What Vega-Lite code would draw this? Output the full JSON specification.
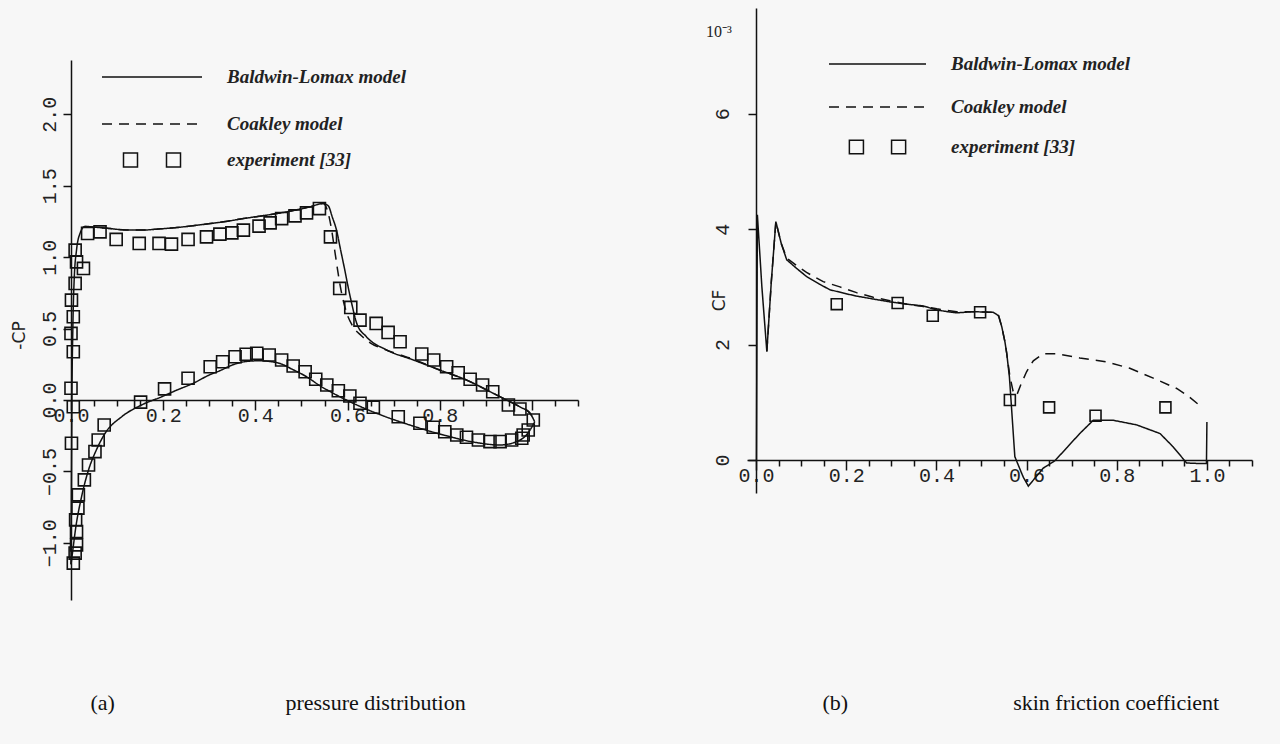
{
  "$schema": "https://vega.github.io/schema/vega-lite/v6.json",
  "width": 1181,
  "height": 592,
  "padding": {"left": 71, "top": 8, "right": 28, "bottom": 144},
  "autosize": {"type": "none"},
  "background": "#f7f7f7",
  "title": {"text": "10\u207b\u00b3", "anchor": "start", "frame": "group", "orient": "top", "dx": 635, "dy": 36, "font": "Liberation Serif", "fontSize": 16, "fontWeight": "normal", "color": "#222"},
  "config": {
    "view": {"stroke": null},
    "axis": {"domainColor": "#111", "domainWidth": 1.5, "tickColor": "#111", "tickWidth": 1.5, "labelFont": "Liberation Mono", "labelFontSize": 20, "labelColor": "#222", "grid": false, "titleFont": "DejaVu Sans", "titleFontWeight": "normal", "titleFontSize": 17, "titleColor": "#222"},
    "legend": {"padding": 0, "title": null, "labelFont": "Liberation Serif", "labelFontStyle": "italic", "labelFontWeight": "bold", "labelFontSize": 19, "labelColor": "#222", "labelOffset": 24, "clipHeight": 20, "labelLimit": 600}
  },
  "datasets": {
    "aLines": [
      {"model":"Baldwin-Lomax model","surf":"upper","i":0,"x":0,"cp":-1.15},
      {"model":"Baldwin-Lomax model","surf":"upper","i":1,"x":0.001,"cp":-0.6},
      {"model":"Baldwin-Lomax model","surf":"upper","i":2,"x":0.002,"cp":0.0},
      {"model":"Baldwin-Lomax model","surf":"upper","i":3,"x":0.004,"cp":0.5},
      {"model":"Baldwin-Lomax model","surf":"upper","i":4,"x":0.007,"cp":0.85},
      {"model":"Baldwin-Lomax model","surf":"upper","i":5,"x":0.012,"cp":1.05},
      {"model":"Baldwin-Lomax model","surf":"upper","i":6,"x":0.02,"cp":1.17},
      {"model":"Baldwin-Lomax model","surf":"upper","i":7,"x":0.03,"cp":1.215},
      {"model":"Baldwin-Lomax model","surf":"upper","i":8,"x":0.05,"cp":1.21},
      {"model":"Baldwin-Lomax model","surf":"upper","i":9,"x":0.085,"cp":1.2},
      {"model":"Baldwin-Lomax model","surf":"upper","i":10,"x":0.12,"cp":1.19},
      {"model":"Baldwin-Lomax model","surf":"upper","i":11,"x":0.157,"cp":1.19},
      {"model":"Baldwin-Lomax model","surf":"upper","i":12,"x":0.19,"cp":1.197},
      {"model":"Baldwin-Lomax model","surf":"upper","i":13,"x":0.229,"cp":1.207},
      {"model":"Baldwin-Lomax model","surf":"upper","i":14,"x":0.265,"cp":1.22},
      {"model":"Baldwin-Lomax model","surf":"upper","i":15,"x":0.302,"cp":1.235},
      {"model":"Baldwin-Lomax model","surf":"upper","i":16,"x":0.34,"cp":1.252},
      {"model":"Baldwin-Lomax model","surf":"upper","i":17,"x":0.374,"cp":1.27},
      {"model":"Baldwin-Lomax model","surf":"upper","i":18,"x":0.41,"cp":1.287},
      {"model":"Baldwin-Lomax model","surf":"upper","i":19,"x":0.446,"cp":1.305},
      {"model":"Baldwin-Lomax model","surf":"upper","i":20,"x":0.48,"cp":1.325},
      {"model":"Baldwin-Lomax model","surf":"upper","i":21,"x":0.518,"cp":1.352},
      {"model":"Baldwin-Lomax model","surf":"upper","i":22,"x":0.547,"cp":1.375},
      {"model":"Baldwin-Lomax model","surf":"upper","i":23,"x":0.558,"cp":1.36},
      {"model":"Baldwin-Lomax model","surf":"upper","i":24,"x":0.567,"cp":1.28},
      {"model":"Baldwin-Lomax model","surf":"upper","i":25,"x":0.576,"cp":1.19},
      {"model":"Baldwin-Lomax model","surf":"upper","i":26,"x":0.585,"cp":1.05},
      {"model":"Baldwin-Lomax model","surf":"upper","i":27,"x":0.594,"cp":0.91},
      {"model":"Baldwin-Lomax model","surf":"upper","i":28,"x":0.602,"cp":0.78},
      {"model":"Baldwin-Lomax model","surf":"upper","i":29,"x":0.609,"cp":0.676},
      {"model":"Baldwin-Lomax model","surf":"upper","i":30,"x":0.62,"cp":0.536},
      {"model":"Baldwin-Lomax model","surf":"upper","i":31,"x":0.641,"cp":0.443},
      {"model":"Baldwin-Lomax model","surf":"upper","i":32,"x":0.685,"cp":0.35},
      {"model":"Baldwin-Lomax model","surf":"upper","i":33,"x":0.743,"cp":0.28},
      {"model":"Baldwin-Lomax model","surf":"upper","i":34,"x":0.8,"cp":0.21},
      {"model":"Baldwin-Lomax model","surf":"upper","i":35,"x":0.858,"cp":0.14},
      {"model":"Baldwin-Lomax model","surf":"upper","i":36,"x":0.916,"cp":0.047},
      {"model":"Baldwin-Lomax model","surf":"upper","i":37,"x":0.945,"cp":0.0},
      {"model":"Baldwin-Lomax model","surf":"upper","i":38,"x":0.975,"cp":-0.05},
      {"model":"Baldwin-Lomax model","surf":"upper","i":39,"x":0.996,"cp":-0.093},
      {"model":"Baldwin-Lomax model","surf":"upper","i":40,"x":1.006,"cp":-0.152},
      {"model":"Baldwin-Lomax model","surf":"lower","i":0,"x":0,"cp":-1.15},
      {"model":"Baldwin-Lomax model","surf":"lower","i":1,"x":0.004,"cp":-1.05},
      {"model":"Baldwin-Lomax model","surf":"lower","i":2,"x":0.01,"cp":-0.9},
      {"model":"Baldwin-Lomax model","surf":"lower","i":3,"x":0.023,"cp":-0.676},
      {"model":"Baldwin-Lomax model","surf":"lower","i":4,"x":0.038,"cp":-0.49},
      {"model":"Baldwin-Lomax model","surf":"lower","i":5,"x":0.055,"cp":-0.35},
      {"model":"Baldwin-Lomax model","surf":"lower","i":6,"x":0.074,"cp":-0.233},
      {"model":"Baldwin-Lomax model","surf":"lower","i":7,"x":0.11,"cp":-0.117},
      {"model":"Baldwin-Lomax model","surf":"lower","i":8,"x":0.153,"cp":-0.035},
      {"model":"Baldwin-Lomax model","surf":"lower","i":9,"x":0.197,"cp":0.023},
      {"model":"Baldwin-Lomax model","surf":"lower","i":10,"x":0.23,"cp":0.07},
      {"model":"Baldwin-Lomax model","surf":"lower","i":11,"x":0.265,"cp":0.117},
      {"model":"Baldwin-Lomax model","surf":"lower","i":12,"x":0.3,"cp":0.175},
      {"model":"Baldwin-Lomax model","surf":"lower","i":13,"x":0.323,"cp":0.205},
      {"model":"Baldwin-Lomax model","surf":"lower","i":14,"x":0.35,"cp":0.245},
      {"model":"Baldwin-Lomax model","surf":"lower","i":15,"x":0.381,"cp":0.27},
      {"model":"Baldwin-Lomax model","surf":"lower","i":16,"x":0.41,"cp":0.275},
      {"model":"Baldwin-Lomax model","surf":"lower","i":17,"x":0.435,"cp":0.268},
      {"model":"Baldwin-Lomax model","surf":"lower","i":18,"x":0.453,"cp":0.256},
      {"model":"Baldwin-Lomax model","surf":"lower","i":19,"x":0.48,"cp":0.215},
      {"model":"Baldwin-Lomax model","surf":"lower","i":20,"x":0.511,"cp":0.163},
      {"model":"Baldwin-Lomax model","surf":"lower","i":21,"x":0.54,"cp":0.1},
      {"model":"Baldwin-Lomax model","surf":"lower","i":22,"x":0.569,"cp":0.047},
      {"model":"Baldwin-Lomax model","surf":"lower","i":23,"x":0.605,"cp":-0.012},
      {"model":"Baldwin-Lomax model","surf":"lower","i":24,"x":0.663,"cp":-0.093},
      {"model":"Baldwin-Lomax model","surf":"lower","i":25,"x":0.735,"cp":-0.175},
      {"model":"Baldwin-Lomax model","surf":"lower","i":26,"x":0.808,"cp":-0.245},
      {"model":"Baldwin-Lomax model","surf":"lower","i":27,"x":0.88,"cp":-0.298},
      {"model":"Baldwin-Lomax model","surf":"lower","i":28,"x":0.931,"cp":-0.315},
      {"model":"Baldwin-Lomax model","surf":"lower","i":29,"x":0.967,"cp":-0.291},
      {"model":"Baldwin-Lomax model","surf":"lower","i":30,"x":0.985,"cp":-0.255},
      {"model":"Baldwin-Lomax model","surf":"lower","i":31,"x":0.996,"cp":-0.21},
      {"model":"Baldwin-Lomax model","surf":"lower","i":32,"x":1.006,"cp":-0.152},
      {"model":"Coakley model","surf":"upper","i":0,"x":0.03,"cp":1.215},
      {"model":"Coakley model","surf":"upper","i":1,"x":0.05,"cp":1.21},
      {"model":"Coakley model","surf":"upper","i":2,"x":0.085,"cp":1.2},
      {"model":"Coakley model","surf":"upper","i":3,"x":0.12,"cp":1.19},
      {"model":"Coakley model","surf":"upper","i":4,"x":0.157,"cp":1.19},
      {"model":"Coakley model","surf":"upper","i":5,"x":0.19,"cp":1.197},
      {"model":"Coakley model","surf":"upper","i":6,"x":0.229,"cp":1.207},
      {"model":"Coakley model","surf":"upper","i":7,"x":0.265,"cp":1.22},
      {"model":"Coakley model","surf":"upper","i":8,"x":0.302,"cp":1.235},
      {"model":"Coakley model","surf":"upper","i":9,"x":0.34,"cp":1.252},
      {"model":"Coakley model","surf":"upper","i":10,"x":0.374,"cp":1.27},
      {"model":"Coakley model","surf":"upper","i":11,"x":0.41,"cp":1.287},
      {"model":"Coakley model","surf":"upper","i":12,"x":0.446,"cp":1.305},
      {"model":"Coakley model","surf":"upper","i":13,"x":0.48,"cp":1.325},
      {"model":"Coakley model","surf":"upper","i":14,"x":0.518,"cp":1.352},
      {"model":"Coakley model","surf":"upper","i":15,"x":0.547,"cp":1.375},
      {"model":"Coakley model","surf":"upper","i":16,"x":0.556,"cp":1.33},
      {"model":"Coakley model","surf":"upper","i":17,"x":0.565,"cp":1.2},
      {"model":"Coakley model","surf":"upper","i":18,"x":0.572,"cp":1.05},
      {"model":"Coakley model","surf":"upper","i":19,"x":0.578,"cp":0.92},
      {"model":"Coakley model","surf":"upper","i":20,"x":0.584,"cp":0.8},
      {"model":"Coakley model","surf":"upper","i":21,"x":0.597,"cp":0.62},
      {"model":"Coakley model","surf":"upper","i":22,"x":0.612,"cp":0.513},
      {"model":"Coakley model","surf":"upper","i":23,"x":0.63,"cp":0.45},
      {"model":"Coakley model","surf":"upper","i":24,"x":0.649,"cp":0.4},
      {"model":"Coakley model","surf":"upper","i":25,"x":0.68,"cp":0.355},
      {"model":"Coakley model","surf":"upper","i":26,"x":0.72,"cp":0.31},
      {"model":"Coakley model","surf":"upper","i":27,"x":0.743,"cp":0.285},
      {"model":"Coakley model","surf":"upper","i":28,"x":0.8,"cp":0.21},
      {"model":"Coakley model","surf":"upper","i":29,"x":0.858,"cp":0.14},
      {"model":"Coakley model","surf":"upper","i":30,"x":0.916,"cp":0.047},
      {"model":"Coakley model","surf":"upper","i":31,"x":0.945,"cp":0.0},
      {"model":"Coakley model","surf":"upper","i":32,"x":0.975,"cp":-0.05},
      {"model":"Coakley model","surf":"upper","i":33,"x":0.996,"cp":-0.093},
      {"model":"Coakley model","surf":"upper","i":34,"x":1.006,"cp":-0.152}
    ],
    "aExp": [
      {"series":"experiment [33]","x":0.009,"cp":1.049},{"series":"experiment [33]","x":0.012,"cp":0.967},{"series":"experiment [33]","x":0.027,"cp":0.921},
      {"series":"experiment [33]","x":0.036,"cp":1.166},{"series":"experiment [33]","x":0.063,"cp":1.177},{"series":"experiment [33]","x":0.098,"cp":1.124},
      {"series":"experiment [33]","x":0.148,"cp":1.096},{"series":"experiment [33]","x":0.191,"cp":1.096},{"series":"experiment [33]","x":0.218,"cp":1.091},
      {"series":"experiment [33]","x":0.254,"cp":1.124},{"series":"experiment [33]","x":0.294,"cp":1.142},{"series":"experiment [33]","x":0.323,"cp":1.161},
      {"series":"experiment [33]","x":0.349,"cp":1.17},{"series":"experiment [33]","x":0.374,"cp":1.189},{"series":"experiment [33]","x":0.408,"cp":1.217},
      {"series":"experiment [33]","x":0.432,"cp":1.24},{"series":"experiment [33]","x":0.457,"cp":1.27},{"series":"experiment [33]","x":0.486,"cp":1.289},
      {"series":"experiment [33]","x":0.511,"cp":1.31},{"series":"experiment [33]","x":0.539,"cp":1.34},{"series":"experiment [33]","x":0.563,"cp":1.142},
      {"series":"experiment [33]","x":0.583,"cp":0.781},{"series":"experiment [33]","x":0.607,"cp":0.648},{"series":"experiment [33]","x":0.627,"cp":0.559},
      {"series":"experiment [33]","x":0.662,"cp":0.536},{"series":"experiment [33]","x":0.688,"cp":0.473},{"series":"experiment [33]","x":0.714,"cp":0.408},
      {"series":"experiment [33]","x":0.761,"cp":0.322},{"series":"experiment [33]","x":0.787,"cp":0.28},{"series":"experiment [33]","x":0.815,"cp":0.233},
      {"series":"experiment [33]","x":0.84,"cp":0.191},{"series":"experiment [33]","x":0.866,"cp":0.145},{"series":"experiment [33]","x":0.893,"cp":0.105},
      {"series":"experiment [33]","x":0.915,"cp":0.058},{"series":"experiment [33]","x":0.949,"cp":-0.035},{"series":"experiment [33]","x":0.974,"cp":-0.063},
      {"series":"experiment [33]","x":1.003,"cp":-0.14},{"series":"experiment [33]","x":0.992,"cp":-0.21},{"series":"experiment [33]","x":0.978,"cp":-0.268},
      {"series":"experiment [33]","x":0.009,"cp":0.816},{"series":"experiment [33]","x":0.001,"cp":0.699},{"series":"experiment [33]","x":0.005,"cp":0.583},
      {"series":"experiment [33]","x":0.0,"cp":0.466},{"series":"experiment [33]","x":0.005,"cp":0.338},{"series":"experiment [33]","x":0.0,"cp":0.082},
      {"series":"experiment [33]","x":0.005,"cp":-0.047},{"series":"experiment [33]","x":0.001,"cp":-0.303},{"series":"experiment [33]","x":0.016,"cp":-0.664},
      {"series":"experiment [33]","x":0.015,"cp":-0.757},{"series":"experiment [33]","x":0.01,"cp":-0.839},{"series":"experiment [33]","x":0.012,"cp":-0.921},
      {"series":"experiment [33]","x":0.012,"cp":-1.014},{"series":"experiment [33]","x":0.009,"cp":-1.072},{"series":"experiment [33]","x":0.005,"cp":-1.142},
      {"series":"experiment [33]","x":0.029,"cp":-0.559},{"series":"experiment [33]","x":0.038,"cp":-0.455},{"series":"experiment [33]","x":0.052,"cp":-0.361},
      {"series":"experiment [33]","x":0.059,"cp":-0.28},{"series":"experiment [33]","x":0.072,"cp":-0.175},{"series":"experiment [33]","x":0.151,"cp":-0.015},
      {"series":"experiment [33]","x":0.203,"cp":0.078},{"series":"experiment [33]","x":0.254,"cp":0.152},{"series":"experiment [33]","x":0.302,"cp":0.233},
      {"series":"experiment [33]","x":0.329,"cp":0.268},{"series":"experiment [33]","x":0.356,"cp":0.303},{"series":"experiment [33]","x":0.38,"cp":0.32},
      {"series":"experiment [33]","x":0.403,"cp":0.327},{"series":"experiment [33]","x":0.43,"cp":0.315},{"series":"experiment [33]","x":0.457,"cp":0.28},
      {"series":"experiment [33]","x":0.482,"cp":0.238},{"series":"experiment [33]","x":0.508,"cp":0.198},{"series":"experiment [33]","x":0.531,"cp":0.145},
      {"series":"experiment [33]","x":0.555,"cp":0.105},{"series":"experiment [33]","x":0.58,"cp":0.065},{"series":"experiment [33]","x":0.605,"cp":0.028},
      {"series":"experiment [33]","x":0.627,"cp":-0.023},{"series":"experiment [33]","x":0.656,"cp":-0.051},{"series":"experiment [33]","x":0.71,"cp":-0.117},
      {"series":"experiment [33]","x":0.757,"cp":-0.163},{"series":"experiment [33]","x":0.786,"cp":-0.191},{"series":"experiment [33]","x":0.811,"cp":-0.222},
      {"series":"experiment [33]","x":0.837,"cp":-0.245},{"series":"experiment [33]","x":0.858,"cp":-0.261},{"series":"experiment [33]","x":0.884,"cp":-0.28},
      {"series":"experiment [33]","x":0.909,"cp":-0.291},{"series":"experiment [33]","x":0.931,"cp":-0.291},{"series":"experiment [33]","x":0.956,"cp":-0.28},
      {"series":"experiment [33]","x":0.981,"cp":-0.245}
    ],
    "bLines": [
      {"model":"Baldwin-Lomax model","i":0,"x":0.001,"cf":0.0},
      {"model":"Baldwin-Lomax model","i":1,"x":0.003,"cf":4.25},
      {"model":"Baldwin-Lomax model","i":2,"x":0.013,"cf":3.0},
      {"model":"Baldwin-Lomax model","i":3,"x":0.024,"cf":1.88},
      {"model":"Baldwin-Lomax model","i":4,"x":0.034,"cf":3.1},
      {"model":"Baldwin-Lomax model","i":5,"x":0.044,"cf":4.13},
      {"model":"Baldwin-Lomax model","i":6,"x":0.056,"cf":3.75},
      {"model":"Baldwin-Lomax model","i":7,"x":0.068,"cf":3.47},
      {"model":"Baldwin-Lomax model","i":8,"x":0.09,"cf":3.32},
      {"model":"Baldwin-Lomax model","i":9,"x":0.112,"cf":3.18},
      {"model":"Baldwin-Lomax model","i":10,"x":0.14,"cf":3.05},
      {"model":"Baldwin-Lomax model","i":11,"x":0.164,"cf":2.95},
      {"model":"Baldwin-Lomax model","i":12,"x":0.195,"cf":2.89},
      {"model":"Baldwin-Lomax model","i":13,"x":0.223,"cf":2.84},
      {"model":"Baldwin-Lomax model","i":14,"x":0.26,"cf":2.79},
      {"model":"Baldwin-Lomax model","i":15,"x":0.297,"cf":2.74},
      {"model":"Baldwin-Lomax model","i":16,"x":0.335,"cf":2.7},
      {"model":"Baldwin-Lomax model","i":17,"x":0.371,"cf":2.67},
      {"model":"Baldwin-Lomax model","i":18,"x":0.401,"cf":2.6},
      {"model":"Baldwin-Lomax model","i":19,"x":0.425,"cf":2.57},
      {"model":"Baldwin-Lomax model","i":20,"x":0.445,"cf":2.55},
      {"model":"Baldwin-Lomax model","i":21,"x":0.482,"cf":2.57},
      {"model":"Baldwin-Lomax model","i":22,"x":0.526,"cf":2.56},
      {"model":"Baldwin-Lomax model","i":23,"x":0.538,"cf":2.5},
      {"model":"Baldwin-Lomax model","i":24,"x":0.545,"cf":2.31},
      {"model":"Baldwin-Lomax model","i":25,"x":0.552,"cf":2.05},
      {"model":"Baldwin-Lomax model","i":26,"x":0.556,"cf":1.85},
      {"model":"Baldwin-Lomax model","i":27,"x":0.562,"cf":1.44},
      {"model":"Baldwin-Lomax model","i":28,"x":0.567,"cf":0.87},
      {"model":"Baldwin-Lomax model","i":29,"x":0.574,"cf":0.06},
      {"model":"Baldwin-Lomax model","i":30,"x":0.585,"cf":-0.15},
      {"model":"Baldwin-Lomax model","i":31,"x":0.593,"cf":-0.3},
      {"model":"Baldwin-Lomax model","i":32,"x":0.604,"cf":-0.45},
      {"model":"Baldwin-Lomax model","i":33,"x":0.62,"cf":-0.3},
      {"model":"Baldwin-Lomax model","i":34,"x":0.637,"cf":-0.14},
      {"model":"Baldwin-Lomax model","i":35,"x":0.663,"cf":-0.01},
      {"model":"Baldwin-Lomax model","i":36,"x":0.69,"cf":0.22},
      {"model":"Baldwin-Lomax model","i":37,"x":0.718,"cf":0.46},
      {"model":"Baldwin-Lomax model","i":38,"x":0.748,"cf":0.69},
      {"model":"Baldwin-Lomax model","i":39,"x":0.792,"cf":0.69},
      {"model":"Baldwin-Lomax model","i":40,"x":0.844,"cf":0.61},
      {"model":"Baldwin-Lomax model","i":41,"x":0.896,"cf":0.46},
      {"model":"Baldwin-Lomax model","i":42,"x":0.925,"cf":0.23},
      {"model":"Baldwin-Lomax model","i":43,"x":0.955,"cf":-0.05},
      {"model":"Baldwin-Lomax model","i":44,"x":0.984,"cf":-0.06},
      {"model":"Baldwin-Lomax model","i":45,"x":0.999,"cf":-0.06},
      {"model":"Baldwin-Lomax model","i":46,"x":1.0,"cf":0.66},
      {"model":"Coakley model","i":0,"x":0.024,"cf":1.88},
      {"model":"Coakley model","i":1,"x":0.034,"cf":3.1},
      {"model":"Coakley model","i":2,"x":0.044,"cf":4.13},
      {"model":"Coakley model","i":3,"x":0.056,"cf":3.75},
      {"model":"Coakley model","i":4,"x":0.068,"cf":3.5},
      {"model":"Coakley model","i":5,"x":0.09,"cf":3.37},
      {"model":"Coakley model","i":6,"x":0.112,"cf":3.25},
      {"model":"Coakley model","i":7,"x":0.149,"cf":3.09},
      {"model":"Coakley model","i":8,"x":0.186,"cf":3.0},
      {"model":"Coakley model","i":9,"x":0.223,"cf":2.9},
      {"model":"Coakley model","i":10,"x":0.26,"cf":2.82},
      {"model":"Coakley model","i":11,"x":0.297,"cf":2.76},
      {"model":"Coakley model","i":12,"x":0.335,"cf":2.7},
      {"model":"Coakley model","i":13,"x":0.371,"cf":2.66},
      {"model":"Coakley model","i":14,"x":0.401,"cf":2.62},
      {"model":"Coakley model","i":15,"x":0.445,"cf":2.57},
      {"model":"Coakley model","i":16,"x":0.482,"cf":2.57},
      {"model":"Coakley model","i":17,"x":0.526,"cf":2.56},
      {"model":"Coakley model","i":18,"x":0.538,"cf":2.5},
      {"model":"Coakley model","i":19,"x":0.545,"cf":2.31},
      {"model":"Coakley model","i":20,"x":0.552,"cf":2.05},
      {"model":"Coakley model","i":21,"x":0.556,"cf":1.85},
      {"model":"Coakley model","i":22,"x":0.563,"cf":1.45},
      {"model":"Coakley model","i":23,"x":0.57,"cf":1.2},
      {"model":"Coakley model","i":24,"x":0.578,"cf":1.12},
      {"model":"Coakley model","i":25,"x":0.587,"cf":1.3},
      {"model":"Coakley model","i":26,"x":0.6,"cf":1.53},
      {"model":"Coakley model","i":27,"x":0.615,"cf":1.72},
      {"model":"Coakley model","i":28,"x":0.637,"cf":1.84},
      {"model":"Coakley model","i":29,"x":0.666,"cf":1.84},
      {"model":"Coakley model","i":30,"x":0.718,"cf":1.77},
      {"model":"Coakley model","i":31,"x":0.778,"cf":1.7},
      {"model":"Coakley model","i":32,"x":0.829,"cf":1.59},
      {"model":"Coakley model","i":33,"x":0.881,"cf":1.42},
      {"model":"Coakley model","i":34,"x":0.933,"cf":1.24},
      {"model":"Coakley model","i":35,"x":0.96,"cf":1.1},
      {"model":"Coakley model","i":36,"x":0.988,"cf":0.92}
    ],
    "bExp": [
      {"series":"experiment [33]","x":0.179,"cf":2.7},
      {"series":"experiment [33]","x":0.314,"cf":2.72},
      {"series":"experiment [33]","x":0.392,"cf":2.5},
      {"series":"experiment [33]","x":0.497,"cf":2.56},
      {"series":"experiment [33]","x":0.563,"cf":1.04},
      {"series":"experiment [33]","x":0.65,"cf":0.913},
      {"series":"experiment [33]","x":0.753,"cf":0.768},
      {"series":"experiment [33]","x":0.908,"cf":0.913}
    ]
  },
  "layer": [
    {
      "layer": [
        {
          "data": {"name": "aLines"},
          "mark": {"type": "line", "color": "#111", "strokeWidth": 1.5, "interpolate": "monotone"},
          "encoding": {
            "x": {"field": "x", "type": "quantitative",
              "scale": {"domain": [0, 1.1], "range": [0, 507], "nice": false, "zero": false},
              "axis": {"orient": "bottom", "offset": -200,
                "values": [0,0.05,0.1,0.15,0.2,0.25,0.3,0.35,0.4,0.45,0.5,0.55,0.6,0.65,0.7,0.75,0.8,0.85,0.9,0.95,1.0,1.05,1.1],
                "labelExpr": "(round(datum.value*100) % 20 == 0 && datum.value < 0.95) ? format(datum.value, '.1f') : ''",
                "tickSize": {"condition": {"test": "round(datum.value*100) % 20 == 0", "value": 10}, "value": 6},
                "labelPadding": -5, "labelFlush": false, "labelOverlap": false,
                "title": "(a)\u00a0\u00a0\u00a0\u00a0\u00a0\u00a0\u00a0\u00a0\u00a0\u00a0\u00a0\u00a0\u00a0\u00a0\u00a0\u00a0\u00a0\u00a0\u00a0\u00a0\u00a0\u00a0\u00a0\u00a0\u00a0\u00a0\u00a0\u00a0\u00a0\u00a0\u00a0pressure distribution",
                "titleFont": "Liberation Serif", "titleFontSize": 22, "titleColor": "#111",
                "titleX": 19, "titleY": 309, "titleAlign": "left", "titleAnchor": null, "titleBaseline": "alphabetic", "titleAngle": 0}},
            "y": {"field": "cp", "type": "quantitative",
              "scale": {"domain": [-1.4, 2.38], "range": [592, 52], "nice": false, "zero": false},
              "axis": {"orient": "left", "offset": 0, "values": [-1, -0.5, 0, 0.5, 1, 1.5, 2],
                "labelExpr": "format(datum.value, '.1f')", "labelAngle": -90, "labelAlign": "center", "labelBaseline": "bottom",
                "labelPadding": 4, "tickSize": 8, "labelOverlap": false,
                "title": "-CP", "titleX": -52, "titleY": 327, "titleAngle": -90, "titleAlign": "center", "titleAnchor": null, "titleBaseline": "middle"}},
            "strokeDash": {"field": "model", "type": "nominal",
              "scale": {"domain": ["Baldwin-Lomax model", "Coakley model"], "range": [[1, 0], [10, 7]]},
              "legend": {"orient": "none", "legendX": 30, "legendY": 59, "symbolType": "stroke", "symbolSize": 10000,
                "symbolStrokeWidth": 1.5, "symbolStrokeColor": "#111", "rowPadding": 27}},
            "detail": {"field": "surf", "type": "nominal"},
            "order": {"field": "i", "type": "quantitative"}
          }
        },
        {
          "data": {"name": "aExp"},
          "mark": {"type": "point", "shape": "square", "filled": false, "stroke": "#111", "strokeWidth": 1.6, "size": 145},
          "encoding": {
            "x": {"field": "x", "type": "quantitative"},
            "y": {"field": "cp", "type": "quantitative"},
            "opacity": {"field": "series", "type": "nominal", "scale": {"range": [1]},
              "legend": {"orient": "none", "legendX": 30, "legendY": 142, "symbolSize": 10000,
                "symbolType": "M-0.57,-0.14L-0.29,-0.14L-0.29,0.14L-0.57,0.14Z M0.29,-0.14L0.57,-0.14L0.57,0.14L0.29,0.14Z",
                "symbolStrokeColor": "#111", "symbolFillColor": "transparent", "symbolStrokeWidth": 1.5, "symbolOpacity": 1}}
          }
        }
      ]
    },
    {
      "layer": [
        {
          "data": {"name": "bLines"},
          "mark": {"type": "line", "color": "#111", "strokeWidth": 1.5},
          "encoding": {
            "x": {"field": "x", "type": "quantitative",
              "scale": {"domain": [-0.02, 1.1], "range": [676, 1181], "nice": false, "zero": false},
              "axis": {"orient": "bottom", "offset": -140,
                "values": [0,0.05,0.1,0.15,0.2,0.25,0.3,0.35,0.4,0.45,0.5,0.55,0.6,0.65,0.7,0.75,0.8,0.85,0.9,0.95,1.0,1.05,1.1],
                "labelExpr": "(round(datum.value*100) % 20 == 0 && datum.value < 1.05) ? format(datum.value, '.1f') : ''",
                "tickSize": {"condition": {"test": "round(datum.value*100) % 20 == 0", "value": 10}, "value": 6},
                "labelPadding": -5, "labelFlush": false, "labelOverlap": false,
                "title": "(b)\u00a0\u00a0\u00a0\u00a0\u00a0\u00a0\u00a0\u00a0\u00a0\u00a0\u00a0\u00a0\u00a0\u00a0\u00a0\u00a0\u00a0\u00a0\u00a0\u00a0\u00a0\u00a0\u00a0\u00a0\u00a0\u00a0\u00a0\u00a0\u00a0\u00a0skin friction coefficient",
                "titleFont": "Liberation Serif", "titleFontSize": 22, "titleColor": "#111",
                "titleX": 751, "titleY": 249, "titleAlign": "left", "titleAnchor": null, "titleBaseline": "alphabetic", "titleAngle": 0}},
            "y": {"field": "cf", "type": "quantitative",
              "scale": {"domain": [-0.57, 7.83], "range": [485, 0], "nice": false, "zero": false},
              "axis": {"orient": "left", "offset": -685, "values": [0, 2, 4, 6],
                "labelExpr": "format(datum.value, 'd')", "labelAngle": -90, "labelAlign": "center", "labelBaseline": "bottom",
                "labelPadding": 16, "tickSize": 8, "labelOverlap": false,
                "title": "CF", "titleX": -37, "titleY": 292, "titleAngle": -90, "titleAlign": "center", "titleAnchor": null, "titleBaseline": "middle"}},
            "strokeDash": {"field": "model", "type": "nominal",
              "scale": {"domain": ["Baldwin-Lomax model", "Coakley model"], "range": [[1, 0], [10, 7]]},
              "legend": {"orient": "none", "legendX": 757, "legendY": 46, "symbolType": "stroke", "symbolSize": 9409,
                "symbolStrokeWidth": 1.5, "symbolStrokeColor": "#111", "rowPadding": 23}},
            "order": {"field": "i", "type": "quantitative"}
          }
        },
        {
          "data": {"name": "bExp"},
          "mark": {"type": "point", "shape": "square", "filled": false, "stroke": "#111", "strokeWidth": 1.6, "size": 120},
          "encoding": {
            "x": {"field": "x", "type": "quantitative"},
            "y": {"field": "cf", "type": "quantitative"},
            "opacity": {"field": "series", "type": "nominal", "scale": {"range": [1]},
              "legend": {"orient": "none", "legendX": 757, "legendY": 129, "symbolSize": 9409,
                "symbolType": "M-0.58,-0.14L-0.29,-0.14L-0.29,0.14L-0.58,0.14Z M0.29,-0.14L0.58,-0.14L0.58,0.14L0.29,0.14Z",
                "symbolStrokeColor": "#111", "symbolFillColor": "transparent", "symbolStrokeWidth": 1.5, "symbolOpacity": 1}}
          }
        }
      ]
    }
  ],
  "resolve": {
    "scale": {"x": "independent", "y": "independent", "strokeDash": "independent", "opacity": "independent"},
    "axis": {"x": "independent", "y": "independent"},
    "legend": {"strokeDash": "independent", "opacity": "independent"}
  }
}
